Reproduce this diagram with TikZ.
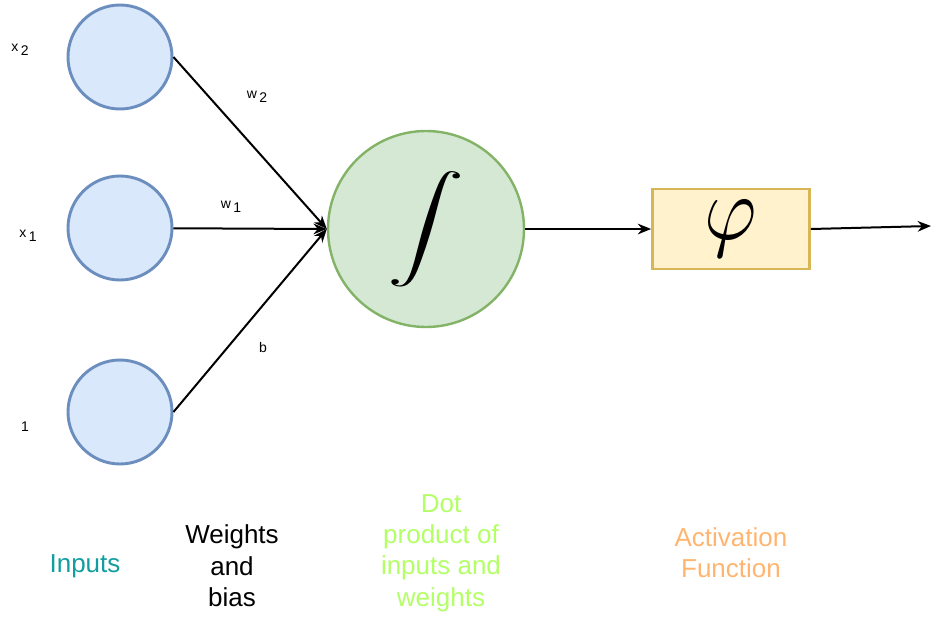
\documentclass[tikz,border=0pt]{standalone}
\usepackage{amsmath}
\usepackage{fontspec}
\setmainfont{Liberation Sans}
\usetikzlibrary{arrows.meta}
\definecolor{inpc}{HTML}{6C8EBF}
\definecolor{inpfill}{HTML}{DAE8FC}
\definecolor{sumc}{HTML}{82B366}
\definecolor{sumfill}{HTML}{D5E8D4}
\definecolor{actc}{HTML}{D6B656}
\definecolor{actfill}{HTML}{FFF2CC}
\definecolor{capA}{HTML}{129E9E}
\definecolor{capC}{HTML}{B3FF66}
\definecolor{capD}{HTML}{FFB570}
\tikzset{
  inp/.style={draw=inpc, fill=inpfill, circle, line width=2.2pt, minimum size=78pt, inner sep=0pt},
  sumnode/.style={draw=sumc, fill=sumfill, circle, line width=1.8pt, minimum size=147pt, inner sep=0pt},
  actbox/.style={draw=actc, fill=actfill, line width=1.8pt, minimum width=118pt, minimum height=60pt, inner sep=0pt},
  arr/.style={-{Stealth[length=10pt, width=8pt]}, line width=1.5pt},
  lbl/.style={font=\fontsize{10.5}{12}\selectfont, inner sep=0pt},
  captxt/.style={align=center, font=\fontsize{19.5}{23.5}\selectfont},
}

\begin{document}
\begin{tikzpicture}[x=0.75pt, y=-0.75pt]
  \useasboundingbox (0,0) rectangle (932,618);
  % inputs
  \node[inp] (in2) at (120,57) {};
  \node[inp] (in1) at (120,228) {};
  \node[inp] (in0) at (120,412) {};
  \node[lbl] (lx2) at (20,50) {x\,\raisebox{-.6ex}{2}};
  \node[lbl] (lx1) at (28,236) {x\,\raisebox{-.6ex}{1}};
  \node[lbl] (lone) at (25,427) {1};
  % sum and activation
  \node[sumnode] (sum) at (426,229) {\scalebox{5.8}[3.9]{$\displaystyle\int$}};
  \node[actbox] (act) at (731,229) {\raisebox{3pt}{\scalebox{6}[6.8]{$\varphi$}}};
  \coordinate (out) at (931,226);
  % connectors
  \draw[arr] (in2.east) -- (sum.west);
  \draw[arr] (in1) -- (sum.west);
  \draw[arr] (in0.east) -- (sum.west);
  \draw[arr] (sum) -- (act);
  \draw[arr] (act.east) -- (out);
  \node[lbl] (lw2) at (257,97) {w\,\raisebox{-.6ex}{2}};
  \node[lbl] (lw1) at (231,207) {w\,\raisebox{-.6ex}{1}};
  \node[lbl] (lb) at (263,347) {b};
  % captions
  \node[captxt, capA] (cinp) at (85,566) {Inputs};
  \node[captxt] (cwts) at (232,566) {Weights\\and\\bias};
  \node[captxt, capC] (cdot) at (441,553) {Dot\\product of\\inputs and\\weights};
  \node[captxt, capD] (cact) at (731,553) {Activation\\Function};
\end{tikzpicture}
\end{document}
